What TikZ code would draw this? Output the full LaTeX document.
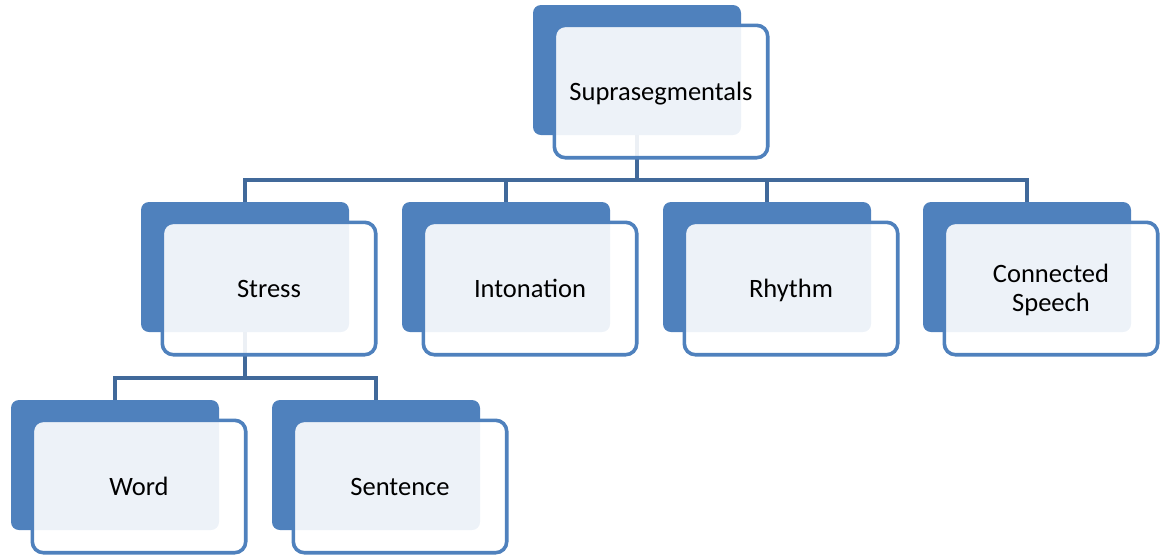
\documentclass[tikz,border=0pt]{standalone}
\usepackage{fontspec}
\setmainfont{Carlito}
\usetikzlibrary{backgrounds}
\definecolor{accent}{HTML}{4F81BD}
\definecolor{linkc}{HTML}{41699A}
\begin{document}
\begin{tikzpicture}[x=1pt,y=-1pt,
  backbox/.style={fill=accent, draw=none, rounded corners=8pt, minimum width=208pt, minimum height=130pt, inner sep=0pt},
  frontbox/.style={draw=accent, line width=3.6pt, fill=white, fill opacity=0.9, draw opacity=1, text opacity=1,
    rounded corners=11pt, minimum width=213.4pt, minimum height=132.4pt, inner sep=0pt, align=center,
    font=\fontsize{26.5}{29}\selectfont, text height=17pt, text depth=0pt},
  link/.style={draw=linkc, line width=4pt}]
\useasboundingbox (0,0) rectangle (1168,558);

% back boxes
\node[backbox] (sup-b) at (637,70) {};
\node[backbox] (str-b) at (245,267) {};
\node[backbox] (int-b) at (506,267) {};
\node[backbox] (rhy-b) at (767,267) {};
\node[backbox] (con-b) at (1027,267) {};
\node[backbox] (wor-b) at (115,465) {};
\node[backbox] (sen-b) at (376,465) {};

% front boxes
\node[frontbox] (sup) at (661,91.5) {Suprasegmentals};
\node[frontbox] (str) at (269,288.5) {Stress};
\node[frontbox] (int) at (530,288.5) {Intonation};
\node[frontbox] (rhy) at (791,288.5) {Rhythm};
\node[frontbox, text height=46pt] (con) at (1051,288.5) {Connected\\Speech};
\node[frontbox] (wor) at (139,486.5) {Word};
\node[frontbox] (sen) at (400,486.5) {Sentence};

\coordinate (bus1) at (637,180);
\coordinate (bus2) at (245,378);

\begin{scope}[on background layer]
  \draw[link] (sup-b.center) |- (str-b.center |- bus1) -- (str-b.center);
  \draw[link] (sup-b.center) |- (int-b.center |- bus1) -- (int-b.center);
  \draw[link] (sup-b.center) |- (rhy-b.center |- bus1) -- (rhy-b.center);
  \draw[link] (sup-b.center) |- (con-b.center |- bus1) -- (con-b.center);
  \draw[link] (str-b.center) |- (wor-b.center |- bus2) -- (wor-b.center);
  \draw[link] (str-b.center) |- (sen-b.center |- bus2) -- (sen-b.center);
\end{scope}
\end{tikzpicture}
\end{document}
